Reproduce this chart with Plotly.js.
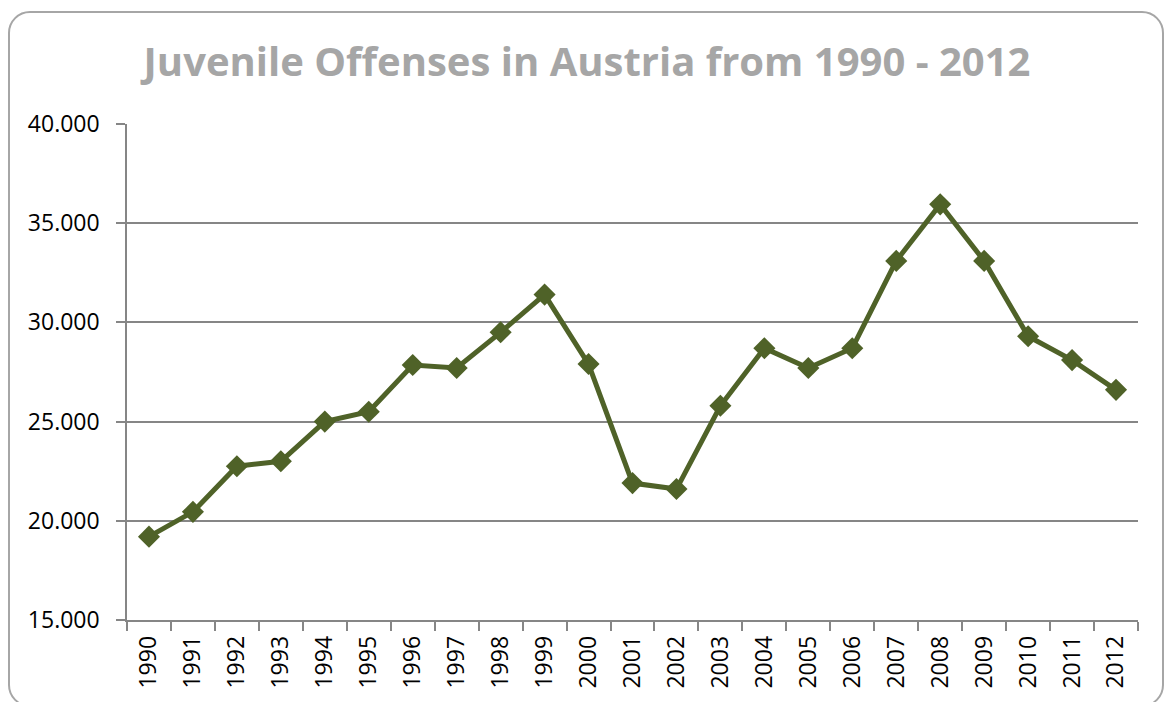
<!DOCTYPE html>
<html>
<head>
<meta charset="utf-8">
<script src="https://cdn.plot.ly/plotly-3.0.1.min.js"></script>
<style>
  html, body { margin: 0; padding: 0; background: #ffffff; }
  #frame { position: absolute; left: 8px; top: 11px; width: 1156px; height: 696px;
           border: 2px solid #a6a6a6; border-radius: 22px; box-sizing: border-box; }
  #chart { position: absolute; left: 0; top: 0; width: 1167px; height: 702px; }
</style>
</head>
<body>
<div id="frame"></div>
<div id="chart"></div>
<script>
const years = ["1990","1991","1992","1993","1994","1995","1996","1997","1998","1999","2000","2001","2002","2003","2004","2005","2006","2007","2008","2009","2010","2011","2012"];
const offenses = [19200, 20450, 22750, 23000, 25000, 25500, 27850, 27700, 29500, 31400, 27900, 21900, 21600, 25800, 28700, 27700, 28700, 33100, 35950, 33100, 29300, 28100, 26600];
const chartTitle = "Juvenile Offenses in Austria from 1990 - 2012";

const trace = {
  x: years,
  y: offenses,
  type: 'scatter',
  mode: 'lines+markers',
  line: { color: '#4f6228', width: 5 },
  marker: { symbol: 'diamond', size: 17, color: '#4f6228' },
  hoverinfo: 'x+y'
};

const layout = {
  width: 1167, height: 702,
  paper_bgcolor: 'rgba(0,0,0,0)',
  plot_bgcolor: 'rgba(0,0,0,0)',
  separators: ',.',
  margin: { l: 127, r: 29, t: 124, b: 82, pad: 0 },
  showlegend: false,
  title: {
    text: '<b>' + chartTitle + '</b>',
    font: { family: 'Open Sans, sans-serif', size: 40, color: '#a6a6a6' },
    x: 0.503, xanchor: 'center', y: 0.911, yanchor: 'middle'
  },
  xaxis: {
    type: 'category',
    range: [-0.5, 22.5],
    tickangle: -90,
    tickson: 'boundaries',
    ticks: 'outside', ticklen: 9, tickcolor: '#868686', tickwidth: 1.5,
    showline: true, linecolor: '#868686', linewidth: 1.5,
    showgrid: false, zeroline: false,
    ticklabelstandoff: 5,
    tickfont: { family: 'Open Sans, sans-serif', size: 23, color: '#000000' },
    fixedrange: true
  },
  yaxis: {
    range: [15000, 40000],
    tickvals: [15000, 20000, 25000, 30000, 35000, 40000],
    tickformat: ',d',
    ticks: 'outside', ticklen: 9, tickcolor: '#868686', tickwidth: 1.5,
    showline: true, linecolor: '#868686', linewidth: 1.5,
    showgrid: true, gridcolor: '#868686', gridwidth: 1.5,
    zeroline: false,
    ticklabelstandoff: 12,
    tickfont: { family: 'Open Sans, sans-serif', size: 23, color: '#000000' },
    fixedrange: true
  }
};

Plotly.newPlot('chart', [trace], layout, { displayModeBar: false });
</script>
</body>
</html>
